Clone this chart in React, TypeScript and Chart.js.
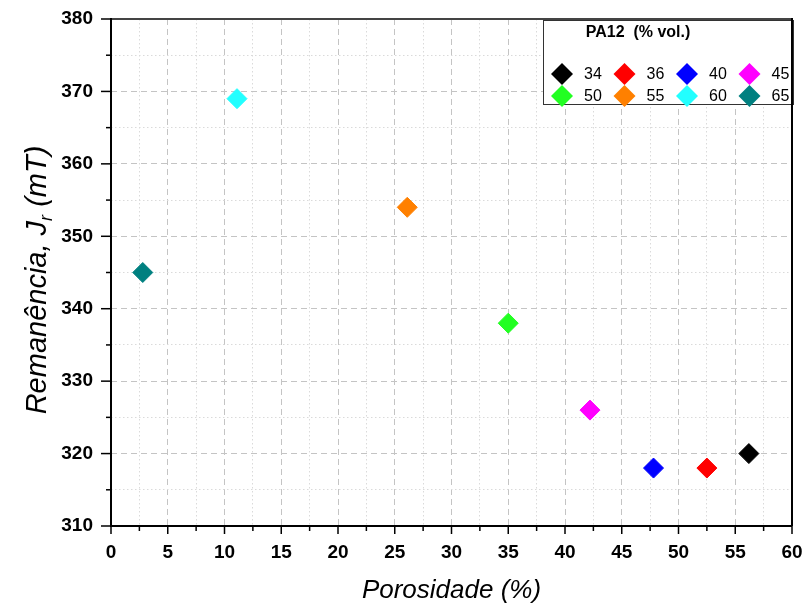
import React, { useEffect, useRef } from 'react';
import { Chart, registerables } from 'chart.js';

Chart.register(...registerables);

// ---- data ----
const pa12Labels = ['34', '36', '40', '45', '50', '55', '60', '65'];
const porosity = [56.2, 52.5, 47.8, 42.2, 35.0, 26.1, 11.1, 2.8];
const remanence = [320, 318, 318, 326, 338, 354, 369, 345];
const markerColors = ['#000000', '#ff0000', '#0000ff', '#ff00ff', '#22ff22', '#ff8000', '#22ffff', '#008080'];

const xMin = 0;
const xMax = 60;
const xStep = 2.5;
const xMajor = 5;
const yMin = 310;
const yMax = 380;
const yStep = 5;
const yMajor = 10;

const legendTitle = 'PA12  (% vol.)';
const xTitle = 'Porosidade (%)';
const yTitleMain = 'Remanência, J';
const yTitleSub = 'r';
const yTitleEnd = ' (mT)';

const FONT = "'Liberation Sans', Arial, sans-serif";

const isMajor = (v: number, m: number) => Math.abs(v / m - Math.round(v / m)) < 1e-6;

const zeroPadding = (s: any) => {
  s.paddingLeft = 0;
  s.paddingRight = 0;
  s.paddingTop = 0;
  s.paddingBottom = 0;
};

const decorPlugin = {
  id: 'decor',
  afterDraw(chart: any) {
    const { ctx, chartArea: a, scales } = chart;
    const xs = scales.x;
    const ys = scales.y;
    ctx.save();

    // tick marks (outward)
    ctx.strokeStyle = '#000';
    ctx.lineWidth = 1.5;
    xs.ticks.forEach((t: any) => {
      const px = xs.getPixelForValue(t.value);
      const len = isMajor(t.value, xMajor) ? 8 : 5;
      ctx.beginPath();
      ctx.moveTo(px, a.bottom);
      ctx.lineTo(px, a.bottom + len);
      ctx.stroke();
    });
    ys.ticks.forEach((t: any) => {
      const py = ys.getPixelForValue(t.value);
      const len = isMajor(t.value, yMajor) ? 10 : 5;
      ctx.beginPath();
      ctx.moveTo(a.left, py);
      ctx.lineTo(a.left - len, py);
      ctx.stroke();
    });

    // legend box
    const lx = 543, ly = 20, lw = 250, lh = 84;
    ctx.fillStyle = '#ffffff';
    ctx.fillRect(lx, ly, lw, lh);
    ctx.strokeStyle = '#333';
    ctx.lineWidth = 1;
    ctx.strokeRect(lx + 0.5, ly + 0.5, lw, lh);

    ctx.fillStyle = '#000';
    ctx.font = `bold 16px ${FONT}`;
    ctx.textAlign = 'center';
    ctx.textBaseline = 'middle';
    ctx.fillText(legendTitle, 638, 33);

    ctx.font = `16px ${FONT}`;
    ctx.textAlign = 'left';
    pa12Labels.forEach((lab, i) => {
      const col = i % 4;
      const row = Math.floor(i / 4);
      const cx = 562 + col * 62.5;
      const cy = 74 + row * 22;
      const r = 11;
      ctx.fillStyle = markerColors[i];
      ctx.beginPath();
      ctx.moveTo(cx - r, cy);
      ctx.lineTo(cx, cy - r);
      ctx.lineTo(cx + r, cy);
      ctx.lineTo(cx, cy + r);
      ctx.closePath();
      ctx.fill();
      ctx.fillStyle = '#000';
      ctx.fillText(lab, cx + 22, cy + 1);
    });

    // frame
    ctx.lineWidth = 2;
    ctx.strokeStyle = '#444';
    ctx.beginPath();
    ctx.moveTo(a.left, a.top);
    ctx.lineTo(a.right, a.top);
    ctx.stroke();
    ctx.strokeStyle = '#000';
    ctx.beginPath();
    ctx.moveTo(a.left, a.top - 1);
    ctx.lineTo(a.left, a.bottom);
    ctx.lineTo(a.right, a.bottom);
    ctx.moveTo(a.right, a.top - 1);
    ctx.lineTo(a.right, a.bottom);
    ctx.stroke();

    // axis titles
    ctx.fillStyle = '#000';
    ctx.font = `italic 26px ${FONT}`;
    ctx.textAlign = 'center';
    ctx.textBaseline = 'alphabetic';
    ctx.fillText(xTitle, (a.left + a.right) / 2, 598);

    ctx.translate(46, 280);
    ctx.rotate(-Math.PI / 2);
    ctx.textAlign = 'left';
    const mainFont = `italic 29px ${FONT}`;
    const subFont = `italic 18px ${FONT}`;
    ctx.font = mainFont;
    const w1 = ctx.measureText(yTitleMain).width;
    const w3 = ctx.measureText(yTitleEnd).width;
    ctx.font = subFont;
    const w2 = ctx.measureText(yTitleSub).width;
    const start = -(w1 + w2 + w3) / 2;
    ctx.font = mainFont;
    ctx.fillText(yTitleMain, start, 0);
    ctx.font = subFont;
    ctx.fillText(yTitleSub, start + w1, 6);
    ctx.font = mainFont;
    ctx.fillText(yTitleEnd, start + w1 + w2, 0);

    ctx.restore();
  },
};

export default function App() {
  const canvasRef = useRef<HTMLCanvasElement | null>(null);

  useEffect(() => {
    if (!canvasRef.current) return;
    Chart.defaults.font.family = FONT;
    const datasets = pa12Labels.map((lab, i) => ({
      label: lab,
      data: [{ x: porosity[i], y: remanence[i] }],
      pointStyle: 'rectRot' as const,
      pointRadius: 10,
      pointBackgroundColor: markerColors[i],
      pointBorderColor: markerColors[i],
      pointBorderWidth: 1,
      showLine: false,
    }));

    const chart = new Chart(canvasRef.current, {
      type: 'scatter',
      data: { datasets },
      options: {
        animation: false,
        responsive: false,
        maintainAspectRatio: false,
        layout: { padding: { left: 0, top: 19, right: 11, bottom: 0 } },
        plugins: {
          legend: { display: false },
          tooltip: { enabled: false },
        },
        scales: {
          x: {
            type: 'linear',
            min: xMin,
            max: xMax,
            afterFit: (s: any) => {
              s.height = 81;
              zeroPadding(s);
            },
            ticks: {
              stepSize: xStep,
              autoSkip: false,
              maxRotation: 0,
              padding: 15,
              color: '#000',
              font: { family: FONT, size: 19, weight: 'bold' },
              callback: (v: any) => (isMajor(Number(v), xMajor) ? String(v) : ''),
            },
            grid: {
              drawTicks: false,
              lineWidth: 1,
              color: (c: any) =>
                c.tick && isMajor(c.tick.value, xMajor) ? '#c4c4c4' : '#dadada',
            },
            border: {
              display: false,
              dash: (c: any) =>
                c.tick && isMajor(c.tick.value, xMajor) ? [6, 4] : [1.5, 2.5],
            },
          },
          y: {
            type: 'linear',
            min: yMin,
            max: yMax,
            afterFit: (s: any) => {
              s.width = 111;
              zeroPadding(s);
            },
            ticks: {
              stepSize: yStep,
              autoSkip: false,
              padding: 18,
              color: '#000',
              font: { family: FONT, size: 19, weight: 'bold' },
              callback: (v: any) => (isMajor(Number(v), yMajor) ? String(v) : ''),
            },
            grid: {
              drawTicks: false,
              lineWidth: 1,
              color: (c: any) =>
                c.tick && isMajor(c.tick.value, yMajor) ? '#c4c4c4' : '#dadada',
            },
            border: {
              display: false,
              dash: (c: any) =>
                c.tick && isMajor(c.tick.value, yMajor) ? [6, 4] : [1.5, 2.5],
            },
          },
        },
      } as any,
      plugins: [decorPlugin],
    });

    return () => chart.destroy();
  }, []);

  return (
    <div
      style={{
        position: 'fixed',
        left: 0,
        top: 0,
        width: 803,
        height: 607,
        background: '#ffffff',
      }}
    >
      <canvas
        ref={canvasRef}
        width={803}
        height={607}
        style={{ display: 'block', width: 803, height: 607 }}
      />
    </div>
  );
}
